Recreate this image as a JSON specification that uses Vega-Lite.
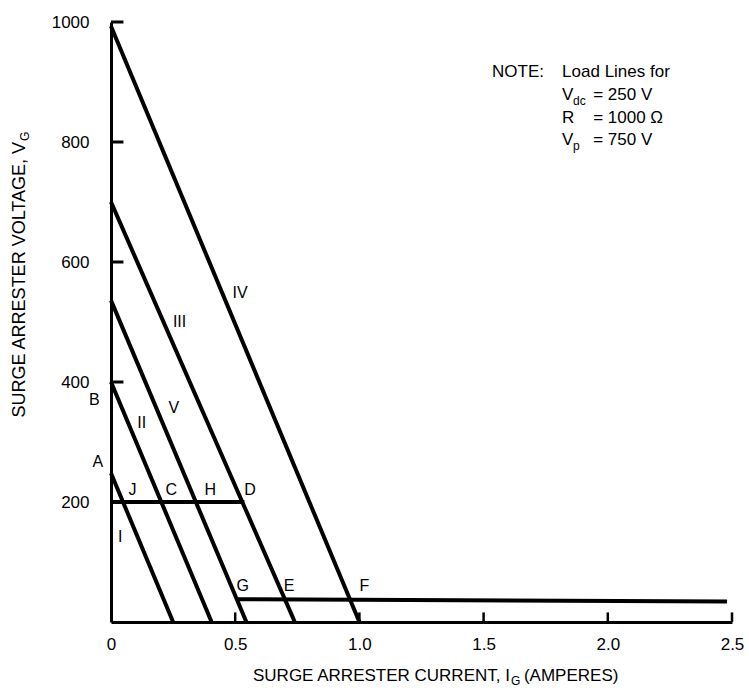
{
  "$schema": "https://vega.github.io/schema/vega-lite/v6.json",
  "autosize": "none",
  "width": 621,
  "height": 600,
  "padding": {"left": 111, "top": 22, "right": 17, "bottom": 72},
  "background": "white",
  "config": {"font": "Liberation Sans", "view": {"stroke": null}},
  "datasets": {
    "lines": [
      {"series": "IV", "I": 0, "V": 993},
      {"series": "IV", "I": 1.0, "V": 0},
      {"series": "III", "I": 0, "V": 700},
      {"series": "III", "I": 0.74, "V": 0},
      {"series": "V", "I": 0, "V": 536},
      {"series": "V", "I": 0.545, "V": 0},
      {"series": "II", "I": 0, "V": 400},
      {"series": "II", "I": 0.405, "V": 0},
      {"series": "I", "I": 0, "V": 248},
      {"series": "I", "I": 0.25, "V": 0},
      {"series": "JD", "I": 0, "V": 200},
      {"series": "JD", "I": 0.537, "V": 200},
      {"series": "GF", "I": 0.503, "V": 38},
      {"series": "GF", "I": 2.48, "V": 34}
    ],
    "yTicks": [{"V": 200}, {"V": 400}, {"V": 600}, {"V": 800}, {"V": 1000}],
    "xTicks": [{"I": 0.5}, {"I": 1.0}, {"I": 1.5}, {"I": 2.0}, {"I": 2.5}],
    "labels": [
      {"text": "A", "I": -0.053, "V": 267},
      {"text": "B", "I": -0.067, "V": 370},
      {"text": "J", "I": 0.087, "V": 220},
      {"text": "C", "I": 0.243, "V": 220},
      {"text": "H", "I": 0.4, "V": 220},
      {"text": "D", "I": 0.56, "V": 220},
      {"text": "I", "I": 0.037, "V": 141},
      {"text": "G", "I": 0.53, "V": 60},
      {"text": "E", "I": 0.717, "V": 60},
      {"text": "F", "I": 1.02, "V": 60},
      {"text": "II", "I": 0.124, "V": 331},
      {"text": "V", "I": 0.253, "V": 357},
      {"text": "III", "I": 0.276, "V": 500},
      {"text": "IV", "I": 0.52, "V": 549}
    ],
    "noteMain": [
      {"text": "NOTE:", "I": 1.534, "V": 917},
      {"text": "Load Lines for", "I": 1.816, "V": 917},
      {"text": "V", "I": 1.816, "V": 878},
      {"text": "= 250 V", "I": 1.941, "V": 878},
      {"text": "R", "I": 1.816, "V": 840},
      {"text": "= 1000 Ω", "I": 1.941, "V": 840},
      {"text": "V", "I": 1.816, "V": 803},
      {"text": "= 750 V", "I": 1.941, "V": 803}
    ],
    "noteSub": [
      {"text": "dc", "I": 1.816, "V": 878},
      {"text": "p", "I": 1.816, "V": 803}
    ],
    "xTitle": [{"text": "SURGE ARRESTER CURRENT, I", "I": 1.606, "V": -90}],
    "xTitleSub": [{"text": "G", "I": 1.606, "V": -90}],
    "xTitleEnd": [{"text": "(AMPERES)", "I": 1.606, "V": -90}],
    "yTitle": [{"text": "SURGE ARRESTER VOLTAGE, V", "I": -0.366, "V": 800}],
    "yTitleSub": [{"text": "G", "I": -0.366, "V": 800}]
  },
  "layer": [
    {
      "data": {"name": "lines"},
      "mark": {"type": "line", "color": "black", "strokeWidth": 4, "clip": false},
      "encoding": {
        "x": {
          "field": "I", "type": "quantitative",
          "scale": {"domain": [0, 2.5], "nice": false, "zero": false},
          "axis": {
            "title": null,
            "values": [0, 0.5, 1, 1.5, 2, 2.5],
            "labelExpr": "datum.value == 0 ? '0' : format(datum.value, '.1f')",
            "grid": false, "ticks": false, "tickSize": 0,
            "domainColor": "black", "domainWidth": 3,
            "labelFontSize": 17, "labelColor": "black", "labelPadding": 14,
            "labelFlush": false, "labelOverlap": false
          }
        },
        "y": {
          "field": "V", "type": "quantitative",
          "scale": {"domain": [0, 1000], "nice": false, "zero": false},
          "axis": {
            "title": null,
            "values": [200, 400, 600, 800, 1000],
            "format": "d",
            "grid": false, "ticks": false, "tickSize": 0,
            "domainColor": "black", "domainWidth": 3,
            "labelFontSize": 17, "labelColor": "black", "labelPadding": 22,
            "labelFlush": false, "labelOverlap": false
          }
        },
        "detail": {"field": "series", "type": "nominal"}
      }
    },
    {
      "data": {"name": "yTicks"},
      "mark": {"type": "rule", "color": "black", "strokeWidth": 3},
      "encoding": {
        "x": {"datum": 0},
        "x2": {"datum": 0.05},
        "y": {"field": "V", "type": "quantitative"}
      }
    },
    {
      "data": {"name": "xTicks"},
      "mark": {"type": "rule", "color": "black", "strokeWidth": 2.5},
      "encoding": {
        "x": {"field": "I", "type": "quantitative"},
        "y": {"datum": 0},
        "y2": {"datum": 16}
      }
    },
    {
      "data": {"name": "labels"},
      "mark": {"type": "text", "fontSize": 16, "color": "black", "align": "center", "baseline": "middle"},
      "encoding": {
        "x": {"field": "I", "type": "quantitative"},
        "y": {"field": "V", "type": "quantitative"},
        "text": {"field": "text", "type": "nominal"}
      }
    },
    {
      "data": {"name": "noteMain"},
      "mark": {"type": "text", "fontSize": 17, "color": "black", "align": "left", "baseline": "middle"},
      "encoding": {
        "x": {"field": "I", "type": "quantitative"},
        "y": {"field": "V", "type": "quantitative"},
        "text": {"field": "text", "type": "nominal"}
      }
    },
    {
      "data": {"name": "noteSub"},
      "mark": {"type": "text", "fontSize": 12, "color": "black", "align": "left", "baseline": "middle", "dx": 11, "dy": 6},
      "encoding": {
        "x": {"field": "I", "type": "quantitative"},
        "y": {"field": "V", "type": "quantitative"},
        "text": {"field": "text", "type": "nominal"}
      }
    },
    {
      "data": {"name": "xTitle"},
      "mark": {"type": "text", "fontSize": 17, "color": "black", "align": "right", "baseline": "middle"},
      "encoding": {
        "x": {"field": "I", "type": "quantitative"},
        "y": {"field": "V", "type": "quantitative"},
        "text": {"field": "text", "type": "nominal"}
      }
    },
    {
      "data": {"name": "xTitleSub"},
      "mark": {"type": "text", "fontSize": 12, "color": "black", "align": "left", "baseline": "middle", "dx": 1, "dy": 5},
      "encoding": {
        "x": {"field": "I", "type": "quantitative"},
        "y": {"field": "V", "type": "quantitative"},
        "text": {"field": "text", "type": "nominal"}
      }
    },
    {
      "data": {"name": "xTitleEnd"},
      "mark": {"type": "text", "fontSize": 17, "color": "black", "align": "left", "baseline": "middle", "dx": 14},
      "encoding": {
        "x": {"field": "I", "type": "quantitative"},
        "y": {"field": "V", "type": "quantitative"},
        "text": {"field": "text", "type": "nominal"}
      }
    },
    {
      "data": {"name": "yTitle"},
      "mark": {"type": "text", "fontSize": 18, "color": "black", "align": "right", "baseline": "middle", "angle": 270},
      "encoding": {
        "x": {"field": "I", "type": "quantitative"},
        "y": {"field": "V", "type": "quantitative"},
        "text": {"field": "text", "type": "nominal"}
      }
    },
    {
      "data": {"name": "yTitleSub"},
      "mark": {"type": "text", "fontSize": 12, "color": "black", "align": "left", "baseline": "middle", "angle": 270, "dx": 1, "dy": 5},
      "encoding": {
        "x": {"field": "I", "type": "quantitative"},
        "y": {"field": "V", "type": "quantitative"},
        "text": {"field": "text", "type": "nominal"}
      }
    }
  ]
}
